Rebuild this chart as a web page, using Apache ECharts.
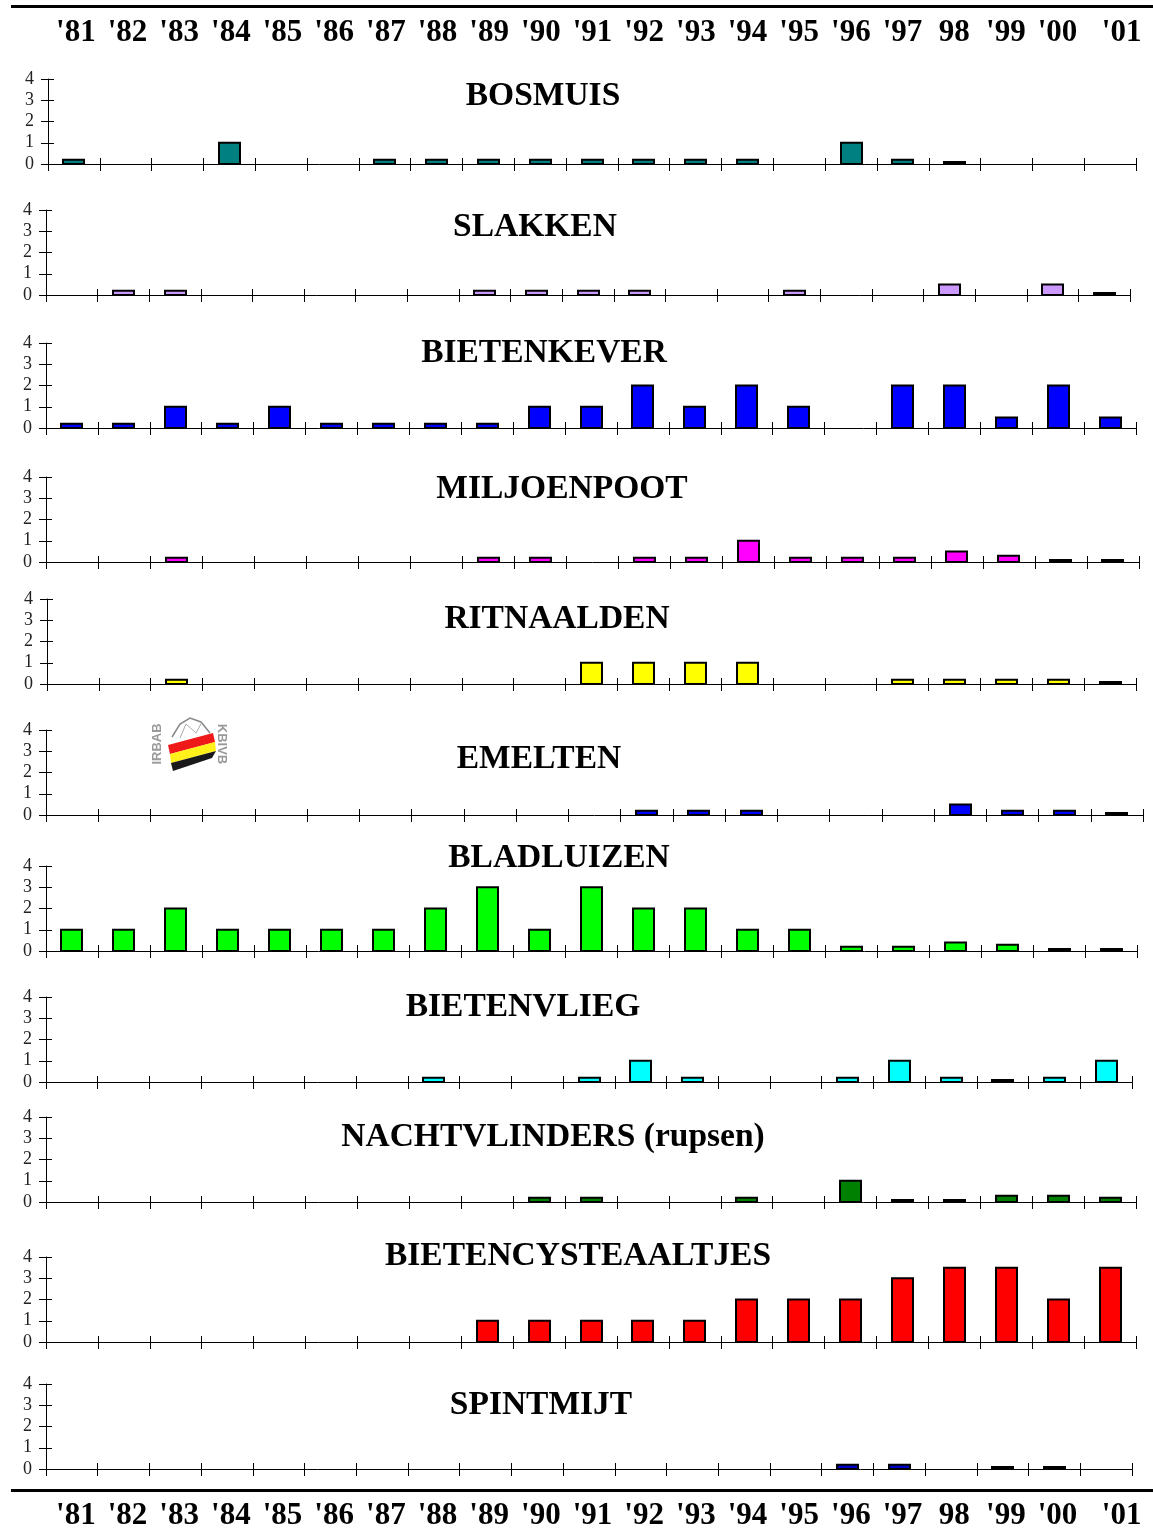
<!DOCTYPE html>
<html lang="en">
<head>
<meta charset="UTF-8">
<title>Plagen 1981-2001</title>
<script src="https://cdn.jsdelivr.net/npm/echarts@6/dist/echarts.min.js"></script>
<style>
	html,body{margin:0;padding:0;background:#fff;}
	#chart{width:1153px;height:1529px;}
</style>
</head>
<body>
<div id="chart"></div>
<script>
var _ = null;
var years = ["'81","'82","'83","'84","'85","'86","'87","'88","'89","'90","'91","'92","'93","'94","'95","'96","'97","98","'99","'00","'01"];
var yTicks = [0, 1, 2, 3, 4];

//                 81  82  83  84  85  86  87  88  89  90  91  92  93  94  95  96  97  98  99  00  01
var bosmuis      = [.2, _,  _,  1,  _,  _, .2, .2, .2, .2, .2, .2, .2, .2,  _,  1, .2, .1,  _,  _,  _];
var slakken      = [ _, .2, .2, _,  _,  _,  _,  _, .2, .2, .2, .2,  _,  _, .2,  _,  _, .5,  _, .5, .1];
var bietenkever  = [.2, .2, 1, .2,  1, .2, .2, .2, .2,  1,  1,  2,  1,  2,  1,  _,  2,  2, .5,  2, .5];
var miljoenpoot  = [ _,  _, .2, _,  _,  _,  _,  _, .2, .2,  _, .2, .2,  1, .2, .2, .2, .5, .3, .1, .1];
var ritnaalden   = [ _,  _, .2, _,  _,  _,  _,  _,  _,  _,  1,  1,  1,  1,  _,  _, .2, .2, .2, .2, .1];
var emelten      = [ _,  _,  _, _,  _,  _,  _,  _,  _,  _,  _, .2, .2, .2,  _,  _,  _, .5, .2, .2, .1];
var bladluizen   = [ 1,  1,  2, 1,  1,  1,  1,  2,  3,  1,  3,  2,  2,  1,  1, .2, .2, .4, .3, .1, .1];
var bietenvlieg  = [ _,  _,  _, _,  _,  _,  _, .2,  _,  _, .2,  1, .2,  _,  _, .2,  1, .2, .1, .2,  1];
var nachtvlinders= [ _,  _,  _, _,  _,  _,  _,  _,  _, .2, .2,  _,  _, .2,  _,  1, .1, .1, .3, .3, .2];
var aaltjes      = [ _,  _,  _, _,  _,  _,  _,  _,  1,  1,  1,  1,  1,  2,  2,  2,  3, 3.5, 3.5, 2, 3.5];
var spintmijt    = [ _,  _,  _, _,  _,  _,  _,  _,  _,  _,  _,  _,  _,  _,  _, .2, .2,  _, .1, .1,  _];

// left/right of the axis, y of value 4 and of value 0, title centre
var panels = [
	{name:'BOSMUIS', data:bosmuis, color:'#008080', x0:48, x1:1136, top:79, bottom:164, tx:543, ty:96},
	{name:'SLAKKEN', data:slakken, color:'#CC99FF', x0:46, x1:1130, top:210, bottom:295, tx:535, ty:227},
	{name:'BIETENKEVER', data:bietenkever, color:'#0000FF', x0:46, x1:1136, top:343, bottom:428, tx:544, ty:353},
	{name:'MILJOENPOOT', data:miljoenpoot, color:'#FF00FF', x0:46, x1:1139, top:477, bottom:562, tx:562, ty:489},
	{name:'RITNAALDEN', data:ritnaalden, color:'#FFFF00', x0:47, x1:1136, top:599, bottom:684, tx:557, ty:619},
	{name:'EMELTEN', data:emelten, color:'#0000FF', x0:46, x1:1143, top:730, bottom:815, tx:539, ty:759},
	{name:'BLADLUIZEN', data:bladluizen, color:'#00FF00', x0:46, x1:1137, top:866, bottom:951, tx:559, ty:858},
	{name:'BIETENVLIEG', data:bietenvlieg, color:'#00FFFF', x0:46, x1:1132, top:997, bottom:1082, tx:523, ty:1007},
	{name:'NACHTVLINDERS (rupsen)', data:nachtvlinders, color:'#008000', x0:46, x1:1136, top:1117, bottom:1202, tx:553, ty:1137},
	{name:'BIETENCYSTEAALTJES', data:aaltjes, color:'#FF0000', x0:46, x1:1136, top:1257, bottom:1342, tx:578, ty:1256},
	{name:'SPINTMIJT', data:spintmijt, color:'#0000CC', x0:46, x1:1132, top:1384, bottom:1469, tx:541, ty:1405}
];

var serif = '"Liberation Serif","Times New Roman",serif';
var axisLine = {show:true, onZero:false, lineStyle:{color:'#000', width:1}};
var barWidth = 21;

// the bars of the original have their outline centred on the value, which a plain bar series does not do
function renderBar(params, api) {
	var top = api.coord([api.value(0), api.value(1)]);
	var base = api.coord([api.value(0), 0]);
	return {
		type:'rect',
		shape:{x:Math.round(top[0] - barWidth / 2), y:top[1], width:barWidth, height:base[1] - top[1]},
		style:{fill:api.visual('color'), stroke:'#000', lineWidth:2}
	};
}

var grid = [], xAxis = [], yAxis = [], series = [], title = [];

panels.forEach(function(p, i) {
	grid.push({left:p.x0, width:p.x1 - p.x0, top:p.top, height:p.bottom - p.top, show:false});
	// the ticks cross the axis, so every axis is there twice: outward and inward
	xAxis.push({type:'category', gridIndex:i, position:'bottom', data:years, axisLine:axisLine, axisLabel:{show:false},
		axisTick:{show:true, interval:0, length:7, lineStyle:{color:'#000', width:1}}});
	xAxis.push({type:'category', gridIndex:i, position:'bottom', data:years, axisLine:{show:false}, axisLabel:{show:false},
		axisTick:{show:true, inside:true, interval:0, length:6, lineStyle:{color:'#000', width:1}}});
	yAxis.push({type:'value', gridIndex:i, position:'left', min:yTicks[0], max:yTicks[yTicks.length - 1], interval:1, splitLine:{show:false},
		axisLine:axisLine, axisTick:{show:true, length:7, lineStyle:{color:'#000', width:1}},
		axisLabel:{margin:14, padding:[2, 0, 0, 0], fontFamily:serif, fontSize:18, color:'#222'}});
	yAxis.push({type:'value', gridIndex:i, position:'left', min:yTicks[0], max:yTicks[yTicks.length - 1], interval:1, splitLine:{show:false},
		axisLine:{show:false}, axisLabel:{show:false},
		axisTick:{show:true, inside:true, length:6, lineStyle:{color:'#000', width:1}}});
	series.push({type:'custom', name:p.name, xAxisIndex:i * 2, yAxisIndex:i * 2, silent:true, clip:false,
		renderItem:renderBar, encode:{x:0, y:1}, itemStyle:{color:p.color},
		data:p.data.map(function(v, k) { return v === null ? null : [k, v]; }).filter(Boolean)});
	title.push({text:p.name, left:p.tx, top:p.ty, textAlign:'center', textVerticalAlign:'middle', padding:0,
		textStyle:{fontFamily:serif, fontSize:33.5, fontWeight:'bold', color:'#000'}});
});

// year rows above and below the panels
function yearLabels() {
	return years.map(function(y, i) {
		// the last label sits further right in the original
		return i == years.length - 1 ? {value:y, textStyle:{padding:[0, 0, 0, 25]}} : y;
	});
}
var g = panels.length;
grid.push({left:50, width:1085, top:60, height:1, show:false});
grid.push({left:50, width:1085, top:1490, height:1, show:false});
[[g, 'top', 12], [g + 1, 'bottom', 10]].forEach(function(r) {
	xAxis.push({type:'category', gridIndex:r[0], position:r[1], data:yearLabels(), axisLine:{show:false}, axisTick:{show:false},
		axisLabel:{interval:0, margin:r[2], fontFamily:serif, fontSize:31, fontWeight:'bold', color:'#000', hideOverlap:false}});
	yAxis.push({type:'value', gridIndex:r[0], show:false});
});

// rules and the small logo
var logoFont = '"Liberation Sans",sans-serif';
var graphic = [
	{type:'rect', shape:{x:11, y:5, width:1142, height:3}, style:{fill:'#000'}},
	{type:'rect', shape:{x:11, y:1489, width:1142, height:3}, style:{fill:'#000'}},
	{type:'polyline', shape:{points:[[172,737],[180,724],[190,718],[201,722],[210,733]]}, style:{fill:null, stroke:'#888', lineWidth:1.5}},
	{type:'polyline', shape:{points:[[180,738],[186,724],[196,733],[202,722]]}, style:{fill:null, stroke:'#aaa', lineWidth:1}},
	{type:'polygon', shape:{points:[[168,745],[213,733],[215,742],[170,754]]}, style:{fill:'#EE0000', opacity:0.9}},
	{type:'polygon', shape:{points:[[170,754],[215,742],[216,751],[171,763]]}, style:{fill:'#FFF000', opacity:0.9}},
	{type:'polygon', shape:{points:[[171,763],[216,751],[212,758],[173,771]]}, style:{fill:'#000', opacity:0.9}},
	{type:'text', x:157, y:744, rotation:Math.PI / 2, style:{text:'IRBAB', fontFamily:logoFont, fontSize:13, fontWeight:'bold', fill:'#999', align:'center', verticalAlign:'middle'}},
	{type:'text', x:222, y:744, rotation:-Math.PI / 2, style:{text:'KBIVB', fontFamily:logoFont, fontSize:13, fontWeight:'bold', fill:'#999', align:'center', verticalAlign:'middle'}}
];

var myChart = echarts.init(document.getElementById('chart'), null, {renderer:'canvas'});
myChart.setOption({
	animation:false,
	backgroundColor:'#fff',
	title:title,
	grid:grid,
	xAxis:xAxis,
	yAxis:yAxis,
	series:series,
	graphic:graphic
});
</script>
</body>
</html>
